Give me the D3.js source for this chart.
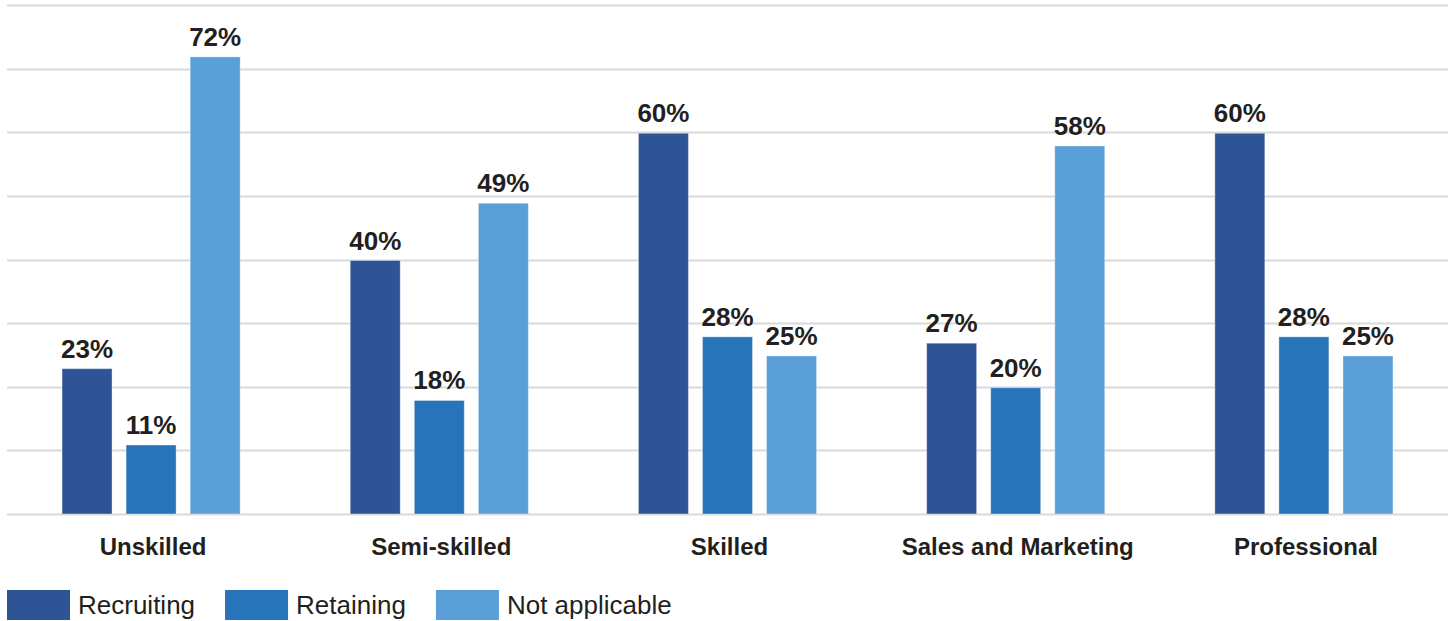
<!DOCTYPE html>
<html>
<head>
<meta charset="utf-8">
<script src="https://cdn.jsdelivr.net/npm/d3@7"></script>
<style>
  html, body { margin: 0; padding: 0; background: #fff; }
  svg { display: block; }
  text { font-family: "Liberation Sans", Arial, sans-serif; fill: #231F20; }
</style>
</head>
<body>
<svg id="chart" width="1452" height="621"></svg>
<script>
// Share of respondents by skill level, split by reason
const categories = ["Unskilled", "Semi-skilled", "Skilled", "Sales and Marketing", "Professional"];
const seriesNames = ["Recruiting", "Retaining", "Not applicable"];
const recruiting = [23, 40, 60, 27, 60];
const retaining = [11, 18, 28, 20, 28];
const notApplicable = [72, 49, 25, 58, 25];
const gridTicks = [0, 10, 20, 30, 40, 50, 60, 70, 80];
const colors = ["#2E5495", "#2774BA", "#5A9FD8"];

const seriesValues = [recruiting, retaining, notApplicable];
const rows = categories.map((c, i) => ({
  category: c,
  values: seriesNames.map((s, j) => ({ series: s, value: seriesValues[j][i] }))
}));

const svg = d3.select("#chart");
const plotLeft = 7, plotRight = 1448, plotTop = 6, plotBottom = 515;

const y = d3.scaleLinear().domain([0, 80]).range([plotBottom, plotTop]);
const x0 = d3.scaleBand().domain(categories).range([plotLeft, plotRight])
  .paddingInner(0.382).paddingOuter(0.191);
const x1 = d3.scaleBand().domain(seriesNames).range([0, x0.bandwidth()])
  .paddingInner(0.22).paddingOuter(0);
const color = d3.scaleOrdinal().domain(seriesNames).range(colors);

// Horizontal gridlines
svg.append("g")
  .selectAll("line")
  .data(gridTicks)
  .join("line")
  .attr("x1", plotLeft).attr("x2", plotRight)
  .attr("y1", d => Math.round(y(d)) - 0.5)
  .attr("y2", d => Math.round(y(d)) - 0.5)
  .attr("stroke", "#D9D9D9")
  .attr("stroke-width", 2);

// Bars
const groups = svg.append("g")
  .selectAll("g")
  .data(rows)
  .join("g")
  .attr("transform", d => `translate(${x0(d.category)},0)`);

groups.selectAll("rect")
  .data(d => d.values)
  .join("rect")
  .attr("x", d => x1(d.series))
  .attr("width", x1.bandwidth())
  .attr("y", d => y(d.value))
  .attr("height", d => y(0) - y(d.value) - 1)
  .attr("fill", d => color(d.series))
  .attr("stroke", "#ffffff")
  .attr("stroke-opacity", 0.35)
  .attr("stroke-width", 1);

// Value labels
groups.selectAll("text")
  .data(d => d.values)
  .join("text")
  .attr("x", d => x1(d.series) + x1.bandwidth() / 2)
  .attr("y", d => y(d.value) - 11)
  .attr("text-anchor", "middle")
  .attr("font-size", 26)
  .attr("font-weight", "bold")
  .text(d => d.value + "%");

// Category axis labels
svg.append("g")
  .selectAll("text")
  .data(categories)
  .join("text")
  .attr("x", d => x0(d) + x0.bandwidth() / 2 + 2)
  .attr("y", 555)
  .attr("text-anchor", "middle")
  .attr("font-size", 24)
  .attr("font-weight", "bold")
  .text(d => d);

// Legend
const legend = svg.append("g");
let lx = 7;
seriesNames.forEach(s => {
  legend.append("rect")
    .attr("x", lx).attr("y", 590)
    .attr("width", 63).attr("height", 30)
    .attr("fill", color(s));
  const t = legend.append("text")
    .attr("x", lx + 71).attr("y", 614)
    .attr("font-size", 26)
    .text(s);
  lx = lx + 71 + t.node().getComputedTextLength() + 30;
});
</script>
</body>
</html>
